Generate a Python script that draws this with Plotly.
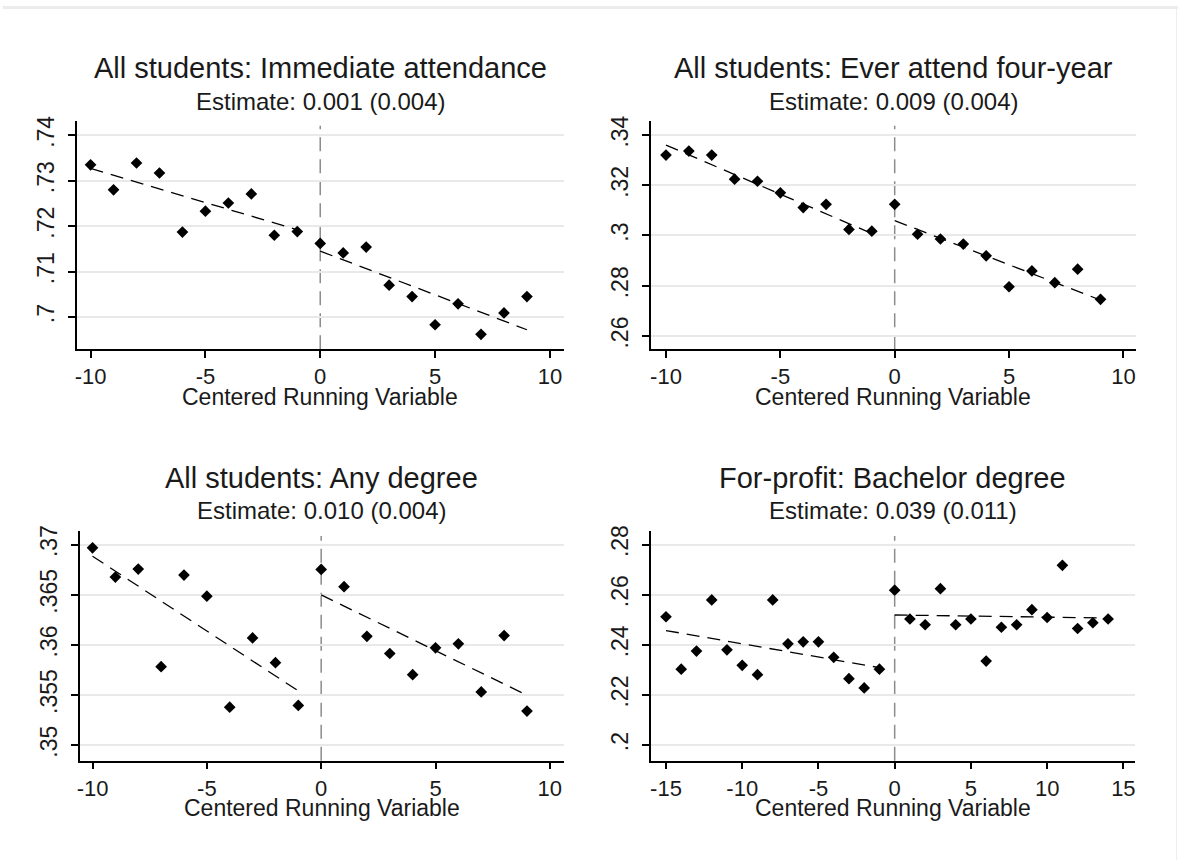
import plotly.graph_objects as go

# ---------------- data ----------------
x_p1 = list(range(-10, 10))
y_p1 = [.7335, .7280, .7339, .7317, .7187, .7233, .7251, .7271, .7180, .7188,
        .7162, .7141, .7154, .7070, .7045, .6983, .7029, .6962, .7009, .7045]
fit_p1_left_x = [-10, -1]
fit_p1_left_y = [.7327, .7192]
fit_p1_right_x = [0, 9]
fit_p1_right_y = [.7145, .6972]

x_p2 = list(range(-10, 10))
y_p2 = [.3320, .3336, .3320, .3224, .3216, .3170, .3111, .3124, .3024, .3017,
        .3124, .3005, .2986, .2966, .2919, .2796, .2859, .2812, .2866, .2746]
fit_p2_left_x = [-10, -1]
fit_p2_left_y = [.3360, .3008]
fit_p2_right_x = [0, 9]
fit_p2_right_y = [.3059, .2743]

x_p3 = list(range(-10, 10))
y_p3 = [.36967, .36676, .36755, .35782, .36696, .36485, .35379, .36069, .35822, .35396,
        .36752, .36580, .36085, .35914, .35703, .35970, .36010, .35531, .36092, .35340]
fit_p3_left_x = [-10, -1]
fit_p3_left_y = [.36884, .35541]
fit_p3_right_x = [0, 9]
fit_p3_right_y = [.36498, .35498]

x_p4 = list(range(-15, 15))
y_p4 = [.2512, .2303, .2375, .2579, .2380, .2318, .2281, .2579, .2404, .2412,
        .2412, .2350, .2265, .2228, .2303, .2618, .2503, .2480, .2624, .2480,
        .2503, .2335, .2470, .2480, .2540, .2509, .2717, .2465, .2488, .2503]
fit_p4_left_x = [-15, -1]
fit_p4_left_y = [.2457, .2309]
fit_p4_right_x = [0, 14]
fit_p4_right_y = [.2519, .2507]

titles = ["All students: Immediate attendance", "All students: Ever attend four-year",
          "All students: Any degree", "For-profit: Bachelor degree"]
subtitles = ["Estimate: 0.001 (0.004)", "Estimate: 0.009 (0.004)",
             "Estimate: 0.010 (0.004)", "Estimate: 0.039 (0.011)"]
xaxis_title = "Centered Running Variable"

y_ticks_p1 = [.70, .71, .72, .73, .74]
y_ticktext_p1 = [".7", ".71", ".72", ".73", ".74"]
y_ticks_p2 = [.26, .28, .30, .32, .34]
y_ticktext_p2 = [".26", ".28", ".3", ".32", ".34"]
y_ticks_p3 = [.35, .355, .36, .365, .37]
y_ticktext_p3 = [".35", ".355", ".36", ".365", ".37"]
y_ticks_p4 = [.20, .22, .24, .26, .28]
y_ticktext_p4 = [".2", ".22", ".24", ".26", ".28"]

x_ticks_p123 = [-10, -5, 0, 5, 10]
x_ticks_p4 = [-15, -10, -5, 0, 5, 10, 15]

# ---------------- layout geometry ----------------
W, H = 1179, 860
FONT = "Liberation Sans, Arial, sans-serif"
TXT = "#1a1a1a"

def px_x(p):
    return p / W

def px_y(p):
    return 1 - p / H

panels = [
    dict(x=x_p1, y=y_p1, fl=(fit_p1_left_x, fit_p1_left_y), fr=(fit_p1_right_x, fit_p1_right_y),
         dom_x=(74.5, 562.6), dom_y=(116, 345.7), xr=[-10.58, 10.6], yr=[.6929, .7431],
         xt=x_ticks_p123, yt=y_ticks_p1, ytt=y_ticktext_p1),
    dict(x=x_p2, y=y_p2, fl=(fit_p2_left_x, fit_p2_left_y), fr=(fit_p2_right_x, fit_p2_right_y),
         dom_x=(650.1, 1136.6), dom_y=(116, 345.7), xr=[-10.66, 10.54], yr=[.2547, .3455],
         xt=x_ticks_p123, yt=y_ticks_p2, ytt=y_ticktext_p2),
    dict(x=x_p3, y=y_p3, fl=(fit_p3_left_x, fit_p3_left_y), fr=(fit_p3_right_x, fit_p3_right_y),
         dom_x=(77.2, 562.7), dom_y=(529, 760), xr=[-10.55, 10.61], yr=[.34845, .37132],
         xt=x_ticks_p123, yt=y_ticks_p3, ytt=y_ticktext_p3),
    dict(x=x_p4, y=y_p4, fl=(fit_p4_left_x, fit_p4_left_y), fr=(fit_p4_right_x, fit_p4_right_y),
         dom_x=(650.1, 1135.5), dom_y=(529, 760), xr=[-15.99, 15.74], yr=[.19378, .28527],
         xt=x_ticks_p4, yt=y_ticks_p4, ytt=y_ticktext_p4),
]

title_y = [62.5, 62.5, 475.5, 475.5]
sub_y = [96, 96, 508.5, 508.5]
axt_y = [394, 394, 808, 808]

fig = go.Figure()
layout = dict(
    width=W, height=H, margin=dict(l=0, r=0, t=0, b=0),
    paper_bgcolor="white", plot_bgcolor="white", showlegend=False,
    font=dict(family=FONT, color=TXT),
)
annotations = []
shapes = []

for i, p in enumerate(panels):
    n = "" if i == 0 else str(i + 1)
    xa, ya = "x" + n, "y" + n
    # fit lines
    for fx, fy in (p["fl"], p["fr"]):
        fig.add_trace(go.Scatter(x=fx, y=fy, xaxis=xa, yaxis=ya, mode="lines",
                                 line=dict(color="black", width=1.3, dash="13px,8px"),
                                 hoverinfo="skip"))
    # binned points
    fig.add_trace(go.Scatter(x=p["x"], y=p["y"], xaxis=xa, yaxis=ya, mode="markers",
                             marker=dict(symbol="diamond", size=9, color="black")))
    layout["xaxis" + n] = dict(
        domain=[px_x(p["dom_x"][0]), px_x(p["dom_x"][1])], anchor=ya,
        range=p["xr"], tickvals=p["xt"], ticktext=[str(v) for v in p["xt"]],
        showgrid=False, zeroline=False, showline=True, linecolor="black", linewidth=1.5,
        ticks="outside", ticklen=7, tickwidth=1.5, tickcolor="black",
        tickfont=dict(size=22, family=FONT, color=TXT),
    )
    layout["yaxis" + n] = dict(
        domain=[px_y(p["dom_y"][1]), px_y(p["dom_y"][0])], anchor=xa,
        range=p["yr"], tickvals=p["yt"], ticktext=p["ytt"], tickangle=-90,
        showgrid=True, gridcolor="#e9e9e9", gridwidth=1.5,
        zeroline=False, showline=True, linecolor="black", linewidth=1.5,
        ticks="outside", ticklen=7, tickwidth=1.5, tickcolor="black",
        ticklabelstandoff=5,
        tickfont=dict(size=23, family=FONT, color=TXT),
    )
    # vertical cutoff line
    shapes.append(dict(type="line", xref=xa, yref=ya + " domain", x0=0, x1=0, y0=0, y1=0.98,
                       line=dict(color="#8c8c8c", width=1.5, dash="14px,8px"), layer="below"))
    cx = px_x((p["dom_x"][0] + p["dom_x"][1]) / 2)
    annotations.append(dict(text=titles[i], x=cx, y=px_y(title_y[i]), xref="paper", yref="paper",
                            xanchor="center", yanchor="middle", showarrow=False,
                            font=dict(size=29, family=FONT, color=TXT)))
    annotations.append(dict(text=subtitles[i], x=cx, y=px_y(sub_y[i]), xref="paper", yref="paper",
                            xanchor="center", yanchor="middle", showarrow=False,
                            font=dict(size=24, family=FONT, color=TXT)))
    annotations.append(dict(text=xaxis_title, x=cx, y=px_y(axt_y[i]), xref="paper", yref="paper",
                            xanchor="center", yanchor="middle", showarrow=False,
                            font=dict(size=23, family=FONT, color=TXT)))

# window frame edges
shapes.append(dict(type="rect", xref="paper", yref="paper", x0=0, x1=1, y0=px_y(3), y1=1,
                   fillcolor="#ececec", line=dict(width=0), layer="below"))
shapes.append(dict(type="line", xref="paper", yref="paper", x0=px_x(1177.5), x1=px_x(1177.5),
                   y0=0, y1=1, line=dict(color="#eeeeee", width=1), layer="below"))

layout["annotations"] = annotations
layout["shapes"] = shapes
fig.update_layout(**layout)
fig.write_html("out.html")
